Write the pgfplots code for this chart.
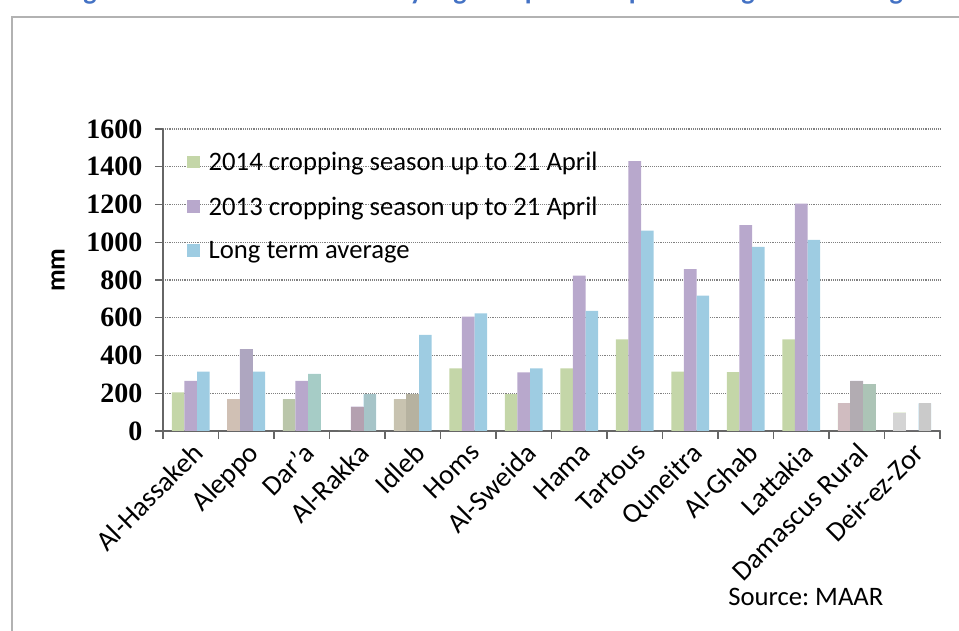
\documentclass[border=0pt]{standalone}
\usepackage{pgfplots}
\pgfplotsset{compat=1.18}
\usepackage{fontspec}
\setmainfont{Carlito}
\newfontfamily\tickfont{Liberation Serif}
\definecolor{c14}{RGB}{196,214,168}
\definecolor{c13}{RGB}{184,168,204}
\definecolor{cla}{RGB}{158,204,226}
\definecolor{titleblue}{RGB}{68,114,196}
\begin{document}
\frenchspacing
\begin{tikzpicture}[x=0.75pt,y=0.75pt]
\useasboundingbox (0,0) rectangle (959,631);
\draw[gray!60, line width=1.5pt] (12,0) -- (12,614) -- (959,614);
\node[anchor=base, text=titleblue, font=\bfseries\fontsize{21}{25}\selectfont, inner sep=0pt] at (490,631) {Figure 4: Cumulative rainfall by region up to 21 April vs long-term average};
\begin{axis}[
  at={(122.25pt,150pt)}, anchor=south west,
  scale only axis, width=582.75pt, height=226.5pt,
  xmin=-0.5, xmax=13.5, ymin=0, ymax=1600,
  ybar, bar width=9.4pt,
  axis x line*=bottom, axis y line*=left,
  axis line style={-, gray!80!black, line width=0.8pt},
  tick align=outside, major tick length=6pt,
  tick style={gray!80!black, line width=0.8pt},
  ytick={0,200,...,1600},
  xtick={-0.5,0.5,...,13.5},
  x tick label as interval,
  xticklabels={Al-Hassakeh,Aleppo,Dar'a,Al-Rakka,Idleb,Homs,Al-Sweida,Hama,Tartous,Quneitra,Al-Ghab,Lattakia,Damascus Rural,Deir-ez-Zor},
  x tick label style={rotate=45, anchor=north east, font=\fontsize{21}{24}\selectfont, inner sep=1pt},
  y tick label style={font=\tickfont\bfseries\fontsize{21}{24}\selectfont, xshift=-6pt},
  /pgf/number format/assume math mode=true,
  /pgf/number format/1000 sep={},
  ymajorgrids, grid style={densely dotted, gray, line width=0.8pt},
  ylabel={mm},
  ylabel style={font=\bfseries\fontsize{20}{24}\selectfont, at={(rel axis cs:-0.135,0.533)}, anchor=center},
  legend style={at={(rel axis cs:0.031,0.933)}, anchor=north west, draw=none, fill=none,
    font=\fontsize{20}{24}\selectfont, row sep=14pt, inner sep=0pt},
  legend cell align=left,
  legend image code/.code={\fill[#1] (0pt,-4.5pt) rectangle (9.5pt,5pt); \path (14pt,0pt);},
]
\addplot[fill=c14, draw=none, bar shift=-9.4pt] coordinates {(0,205) (1,168) (2,168) (3,0) (4,168) (5,332) (6,196) (7,332) (8,486) (9,314) (10,312) (11,485) (12,147) (13,97)};
\addplot[fill=c13, draw=none, bar shift=0pt] coordinates {(0,265) (1,434) (2,265) (3,129) (4,195) (5,606) (6,311) (7,823) (8,1430) (9,858) (10,1091) (11,1205) (12,265) (13,0)};
\addplot[fill=cla, draw=none, bar shift=9.4pt] coordinates {(0,314) (1,314) (2,302) (3,194) (4,509) (5,623) (6,332) (7,637) (8,1061) (9,717) (10,975) (11,1012) (12,247) (13,147)};
% recoloured bars of the reference
\addplot[fill={rgb,255:red,208;green,192;blue,180}, draw=none, bar shift=-9.4pt, forget plot] coordinates {(1,168)};
\addplot[fill={rgb,255:red,186;green,198;blue,170}, draw=none, bar shift=-9.4pt, forget plot] coordinates {(2,168)};
\addplot[fill={rgb,255:red,200;green,195;blue,176}, draw=none, bar shift=-9.4pt, forget plot] coordinates {(4,168)};
\addplot[fill={rgb,255:red,208;green,188;blue,192}, draw=none, bar shift=-9.4pt, forget plot] coordinates {(12,147)};
\addplot[fill={rgb,255:red,212;green,212;blue,212}, draw=none, bar shift=-9.4pt, forget plot] coordinates {(13,97)};
\addplot[fill={rgb,255:red,174;green,166;blue,192}, draw=none, bar shift=0pt, forget plot] coordinates {(1,434)};
\addplot[fill={rgb,255:red,180;green,160;blue,176}, draw=none, bar shift=0pt, forget plot] coordinates {(3,129)};
\addplot[fill={rgb,255:red,182;green,178;blue,160}, draw=none, bar shift=0pt, forget plot] coordinates {(4,195)};
\addplot[fill={rgb,255:red,178;green,172;blue,178}, draw=none, bar shift=0pt, forget plot] coordinates {(12,265)};
\addplot[fill={rgb,255:red,166;green,204;blue,198}, draw=none, bar shift=9.4pt, forget plot] coordinates {(2,302)};
\addplot[fill={rgb,255:red,166;green,196;blue,200}, draw=none, bar shift=9.4pt, forget plot] coordinates {(3,194)};
\addplot[fill={rgb,255:red,172;green,196;blue,182}, draw=none, bar shift=9.4pt, forget plot] coordinates {(12,247)};
\addplot[fill={rgb,255:red,202;green,202;blue,202}, draw=none, bar shift=9.4pt, forget plot] coordinates {(13,147)};
\legend{2014 cropping season up to 21 April, 2013 cropping season up to 21 April, Long term average}
\end{axis}
\node[anchor=base west, font=\fontsize{20}{24}\selectfont, inner sep=0pt] at (728,25) {Source: MAAR};
\end{tikzpicture}
\end{document}
